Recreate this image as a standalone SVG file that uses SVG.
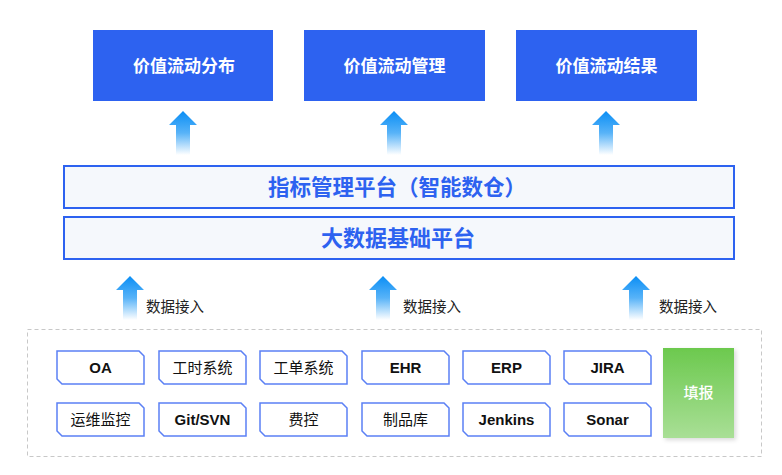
<svg xmlns="http://www.w3.org/2000/svg" width="782" height="475" viewBox="0 0 782 475">
<style>
.top{fill:#2d62f0}
.toptxt{fill:#fff;font-family:"Noto Sans CJK SC",sans-serif;font-size:17px;font-weight:700;text-anchor:middle}
.plat{fill:#f5f8fc;stroke:#2d62f0;stroke-width:2}
.plattxt{fill:#2d62f0;font-family:"Noto Sans CJK SC",sans-serif;font-weight:700;text-anchor:middle}
.src{fill:#fff;stroke:#5b80f5;stroke-width:1.5}
.srctxt{fill:#111;font-family:"Noto Sans CJK SC",sans-serif;font-size:15px;text-anchor:middle}
.lat{font-family:"Liberation Sans","Noto Sans CJK SC",sans-serif;font-weight:700}
.lbl{fill:#222;font-family:"Noto Sans CJK SC",sans-serif;font-size:14.5px}
</style>
<defs>
<linearGradient id="ag" x1="0" y1="0" x2="0" y2="1">
<stop offset="0" stop-color="#0a8ef5"/>
<stop offset="0.5" stop-color="#58b3f8"/>
<stop offset="1" stop-color="#ffffff"/>
</linearGradient>
<linearGradient id="gg" x1="0" y1="0" x2="0" y2="1">
<stop offset="0" stop-color="#6cc94e"/>
<stop offset="1" stop-color="#a9df96"/>
</linearGradient>
<path id="arr" d="M0,0 L14,14 L7,14 L7,44 L-7,44 L-7,14 L-14,14 Z"/>
<path id="srcshape" d="M0,0 H82 L87,5 V33 H5 L0,28 Z"/>
<filter id="sh" x="-20%" y="-20%" width="150%" height="150%">
<feDropShadow dx="2" dy="2" stdDeviation="2" flood-color="#000" flood-opacity="0.15"/>
</filter>
</defs>

<g id="top1"><rect class="top" x="93" y="30" width="180" height="71"/><text class="toptxt" x="184" y="72">价值流动分布</text></g>
<g id="top2"><rect class="top" x="304" y="30" width="181" height="71"/><text class="toptxt" x="394.5" y="72">价值流动管理</text></g>
<g id="top3"><rect class="top" x="516" y="30" width="181" height="71"/><text class="toptxt" x="606.5" y="72">价值流动结果</text></g>

<g id="connectors">
<use href="#arr" x="183" y="111" fill="url(#ag)"/>
<use href="#arr" x="394" y="111" fill="url(#ag)"/>
<use href="#arr" x="606" y="111" fill="url(#ag)"/>
<use href="#arr" x="130" y="276" fill="url(#ag)"/>
<use href="#arr" x="383" y="276" fill="url(#ag)"/>
<use href="#arr" x="636" y="276" fill="url(#ag)"/>
<text class="lbl" x="146" y="312">数据接入</text>
<text class="lbl" x="403" y="312">数据接入</text>
<text class="lbl" x="659" y="312">数据接入</text>
</g>

<g id="platform1"><rect class="plat" x="64" y="166" width="670" height="42"/><text class="plattxt" x="397" y="195" font-size="21.5">指标管理平台（智能数仓）</text></g>
<g id="platform2"><rect class="plat" x="64" y="217" width="670" height="42"/><text class="plattxt" x="398" y="246" font-size="22">大数据基础平台</text></g>

<rect id="sources" x="27.5" y="329.5" width="734" height="127" fill="none" stroke="#c8c8c8" stroke-dasharray="4,3"/>

<g id="n-oa"><use href="#srcshape" x="57" y="351" class="src"/><text class="srctxt lat" x="100.5" y="373">OA</text></g>
<g id="n-gs"><use href="#srcshape" x="159" y="351" class="src"/><text class="srctxt" x="202.5" y="373">工时系统</text></g>
<g id="n-gd"><use href="#srcshape" x="260" y="351" class="src"/><text class="srctxt" x="303.5" y="373">工单系统</text></g>
<g id="n-ehr"><use href="#srcshape" x="362" y="351" class="src"/><text class="srctxt lat" x="405.5" y="373">EHR</text></g>
<g id="n-erp"><use href="#srcshape" x="463" y="351" class="src"/><text class="srctxt lat" x="506.5" y="373">ERP</text></g>
<g id="n-jira"><use href="#srcshape" x="564" y="351" class="src"/><text class="srctxt lat" x="607.5" y="373">JIRA</text></g>

<g id="n-yw"><use href="#srcshape" x="57" y="403" class="src"/><text class="srctxt" x="100.5" y="425">运维监控</text></g>
<g id="n-git"><use href="#srcshape" x="159" y="403" class="src"/><text class="srctxt lat" x="202.5" y="425">Git/SVN</text></g>
<g id="n-fk"><use href="#srcshape" x="260" y="403" class="src"/><text class="srctxt" x="303.5" y="425">费控</text></g>
<g id="n-zp"><use href="#srcshape" x="362" y="403" class="src"/><text class="srctxt" x="405.5" y="425">制品库</text></g>
<g id="n-jk"><use href="#srcshape" x="463" y="403" class="src"/><text class="srctxt lat" x="506.5" y="425">Jenkins</text></g>
<g id="n-sonar"><use href="#srcshape" x="564" y="403" class="src"/><text class="srctxt lat" x="607.5" y="425">Sonar</text></g>

<g id="n-tb"><rect x="663" y="348" width="71" height="90" fill="url(#gg)" filter="url(#sh)"/><text x="698.5" y="398" fill="#fff" font-family="Noto Sans CJK SC,sans-serif" font-size="15" font-weight="500" text-anchor="middle">填报</text></g>
</svg>
